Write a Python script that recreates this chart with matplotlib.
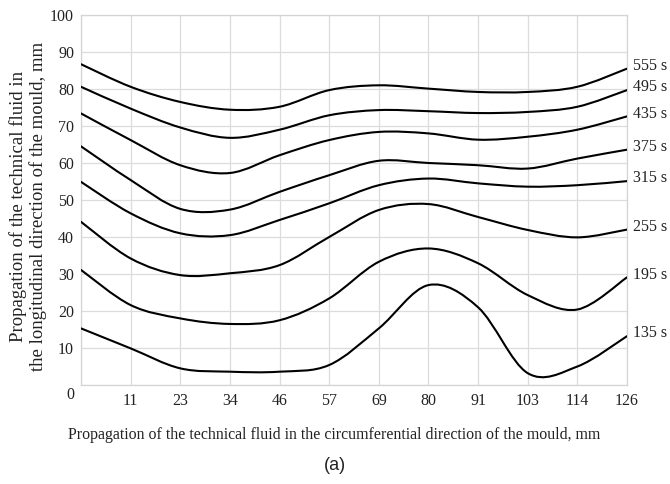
import matplotlib
matplotlib.use('Agg')
import matplotlib.pyplot as plt
from matplotlib.path import Path
from matplotlib.patches import PathPatch
from matplotlib import transforms
import numpy as np

# category axis (circumferential position, mm)
x_labels = ['', '11', '23', '34', '46', '57', '69', '80', '91', '103', '114', '126']
y_ticks = [0, 10, 20, 30, 40, 50, 60, 70, 80, 90, 100]

series_names = ['135 s', '195 s', '255 s', '315 s', '375 s', '435 s', '495 s', '555 s']
t135 = [15.3, 9.9, 4.5, 3.6, 3.6, 5.4, 15.3, 27.0, 21.0, 3.2, 5.0, 13.2]
t195 = [31.1, 21.6, 18.0, 16.5, 17.5, 23.4, 33.3, 36.9, 32.9, 24.3, 20.4, 29.1]
t255 = [44.1, 34.2, 29.7, 30.2, 32.4, 40.0, 47.3, 48.9, 45.4, 41.9, 39.9, 42.0]
t315 = [54.9, 46.4, 41.0, 40.5, 44.6, 49.1, 54.0, 55.8, 54.5, 53.6, 54.0, 55.1]
t375 = [64.5, 55.4, 47.6, 47.4, 52.2, 56.7, 60.6, 60.0, 59.4, 58.5, 61.2, 63.6]
t435 = [73.4, 66.2, 59.4, 57.3, 62.1, 66.2, 68.4, 68.0, 66.3, 67.1, 69.0, 72.6]
t495 = [80.6, 74.7, 69.6, 66.8, 69.0, 72.9, 74.3, 74.0, 73.5, 73.8, 75.2, 79.7]
t555 = [86.7, 80.6, 76.5, 74.4, 75.2, 79.7, 81.0, 80.1, 79.2, 79.2, 80.6, 85.5]
all_series = [t135, t195, t255, t315, t375, t435, t495, t555]


def smooth_path(xs, ys):
    # excel-like smoothed line: catmull-rom turned into cubic beziers
    pts = np.column_stack([xs, ys]).astype(float)
    n = len(pts)
    verts = [pts[0]]
    codes = [Path.MOVETO]
    for i in range(n - 1):
        p0 = pts[i - 1] if i > 0 else pts[i]
        p1 = pts[i]
        p2 = pts[i + 1]
        p3 = pts[i + 2] if i + 2 < n else pts[i + 1]
        c1 = p1 + (p2 - p0) / 6.0
        c2 = p2 - (p3 - p1) / 6.0
        verts += [c1, c2, p2]
        codes += [Path.CURVE4] * 3
    return Path(verts, codes)


fig = plt.figure(figsize=(6.7, 4.84), dpi=100)
ax = fig.add_axes([81 / 670, 1 - 385 / 484, 546 / 670, 370 / 484])

x = np.arange(len(x_labels))
for name, vals in zip(series_names, all_series):
    ax.add_patch(PathPatch(smooth_path(x, vals), fill=False, edgecolor='black',
                           lw=1.5, capstyle='round', zorder=3))
    ax.annotate(name, xy=(x[-1], vals[-1]), xytext=(4, 2), textcoords='offset points',
                ha='left', va='center', fontsize=11.5, family='Liberation Serif',
                color='#222222', annotation_clip=False)

ax.set_xlim(0, len(x_labels) - 1)
ax.set_ylim(0, 100)
ax.set_xticks(x)
ax.set_xticklabels(x_labels)
ax.set_yticks(y_ticks)
ax.grid(True, color='#dcdcdc', lw=0.9)
ax.set_axisbelow(True)
for s in ax.spines.values():
    s.set_color('#d4d4d4')
    s.set_linewidth(0.9)
ax.tick_params(length=0, labelsize=11.5, colors='#222222')
ax.tick_params(axis='x', pad=6)
ax.tick_params(axis='y', pad=5)
for lab in ax.get_xticklabels() + ax.get_yticklabels():
    lab.set_family('Liberation Serif')
# the zero sits a bit lower in the original
zero = ax.get_yticklabels()[0]
zero.set_transform(zero.get_transform() + transforms.ScaledTranslation(0, -6 / 72, fig.dpi_scale_trans))

fig.text(28 / 670, 1 - 206 / 484,
         'Propagation of the technical fluid in\nthe longitudinal direction of the mould, mm',
         rotation=90, ha='center', va='center', multialignment='center',
         fontsize=13.5, family='Liberation Serif', color='#222222', linespacing=1.1)
fig.text(334 / 670, 1 - 435 / 484,
         'Propagation of the technical fluid in the circumferential direction of the mould, mm',
         ha='center', va='center', fontsize=11.4, family='Liberation Serif', color='#222222')
fig.text(335 / 670, 1 - 465 / 484, '(a)', ha='center', va='center',
         fontsize=13, family='Liberation Sans', color='#222222')

fig.savefig('out.png', dpi=100)
